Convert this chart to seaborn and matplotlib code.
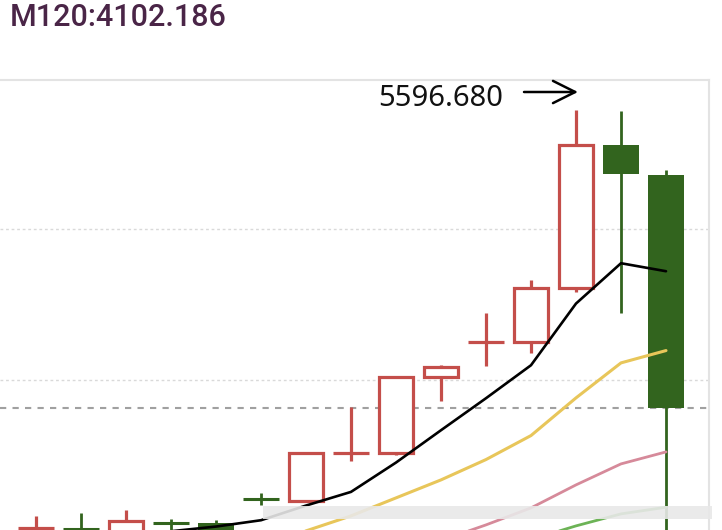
import matplotlib
matplotlib.use("Agg")
import matplotlib.pyplot as plt
from matplotlib.patches import Rectangle
from matplotlib.transforms import offset_copy
import numpy as np
import pandas as pd
import seaborn as sns

# --- data ---
days = list(range(15))
opens = [4342, 4344, 4325, 4359, 4358, 4433, 4424, 4565, 4568, 4796, 4898, 4901, 5063, 5492, 5402]
highs = [4378, 4387, 4397, 4370, 4367, 4448, 4571, 4706, 4799, 4832, 4988, 5087, 5596.68, 5594, 5417]
lows = [4312, 4310, 4313, 4322, 4313, 4412, 4421, 4544, 4562, 4724, 4829, 4868, 5051, 4988, 4292]
closes = [4344, 4341, 4364, 4357, 4331, 4430, 4568, 4568, 4796, 4826, 4901, 5063, 5492, 5405, 4703]

ma5 = [None, None, None, 4333, 4347, 4366, 4410, 4451, 4539, 4636, 4732, 4831, 5016, 5137, 5113]
ma10 = [None, None, None, None, None, 4300, 4334, 4379, 4433, 4487, 4548, 4620, 4733, 4838, 4875]
ma20 = [None, None, None, None, None, None, None, None, None, 4305, 4352, 4403, 4472, 4535, 4571]
ma30 = [None, None, None, None, None, None, None, None, None, None, None, 4308, 4349, 4385, 4405]

title_text = "M120:4102.186"
high_label = "5596.680"
grid_levels = [5239.68, 4786.68]
y_range = (4336.68, 5686.68)

RED = "#c44e4a"
GREEN = "#32641e"

sns.set_theme(style="white")
plt.rcParams["font.family"] = ["Noto Sans", "DejaVu Sans"]

fig = plt.figure(figsize=(7.22, 5.30), dpi=100)
ax = fig.add_axes([0, 0, 709 / 722, 450 / 530])

# grid / reference lines
for g in grid_levels:
    ax.axhline(g, color="#d9d9d9", lw=1, ls=(0, (2, 2)), zorder=0)
ax.axhline(closes[-1], color="#a0a0a0", lw=1.5, ls=(0, (3, 3)), zorder=0)

# candles
width = 0.82
for i, o, h, l, c in zip(days, opens, highs, lows, closes):
    up = c >= o
    top, bot = max(o, c), min(o, c)
    if up:
        ax.vlines(i, top, h, color=RED, lw=2.3, zorder=2)
        ax.vlines(i, l, bot, color=RED, lw=2.3, zorder=2)
        if top - bot < 5:
            ax.hlines(c, i - width / 2, i + width / 2, color=RED, lw=2.3, zorder=3)
        else:
            ax.bar(i, top - bot, bottom=bot, width=width - 0.06, facecolor="white",
                   edgecolor=RED, linewidth=2.3, zorder=3)
    else:
        ax.vlines(i, l, h, color=GREEN, lw=2.0, zorder=2)
        if top - bot < 5:
            ax.hlines(c, i - width / 2, i + width / 2, color=GREEN, lw=2.2, zorder=3)
        else:
            ax.bar(i, top - bot, bottom=bot, width=width, color=GREEN, linewidth=0, zorder=3)

# moving averages
ma = pd.DataFrame({"day": days, "ma5": ma5, "ma10": ma10, "ma20": ma20, "ma30": ma30})
for col, colour, lw in [("ma30", "#6cb356", 2.0), ("ma20", "#d68a9a", 2.0),
                        ("ma10", "#e8c65a", 2.2), ("ma5", "black", 1.9)]:
    d = ma[["day", col]].dropna()
    sns.lineplot(data=d, x="day", y=col, ax=ax, color=colour, lw=lw, zorder=4)

ax.set_xlim(-0.8, 709 / 45 - 0.8)
ax.set_ylim(*y_range)
ax.set_xticks([])
ax.set_yticks([])
ax.set_xlabel("")
ax.set_ylabel("")
for s in ["left", "bottom"]:
    ax.spines[s].set_visible(False)
for s in ["top", "right"]:
    ax.spines[s].set_color("#e3e3e3")
    ax.spines[s].set_linewidth(1.5)

# highest-point label with arrow
hi_i = int(np.argmax(highs))
hi = highs[hi_i]
tip = offset_copy(ax.transData, fig=fig, x=2, y=18, units="dots")
tail = offset_copy(ax.transData, fig=fig, x=-52, y=18, units="dots")
ax.annotate("", xy=(hi_i, hi), xycoords=tip, xytext=(hi_i, hi), textcoords=tail,
            arrowprops=dict(arrowstyle="->,head_length=0.4,head_width=0.2",
                            color="black", lw=1.8, mutation_scale=40, shrinkA=0, shrinkB=0))
lab = offset_copy(ax.transData, fig=fig, x=-73, y=11, units="dots")
ax.text(hi_i, hi, high_label, transform=lab, ha="right", va="center",
        fontsize=21, color="#111111")

# title
fig.text(10 / 722, 1 - 26 / 530, title_text, ha="left", va="baseline",
         fontsize=22, fontweight="medium", color="#4a2547", family=["Roboto", "DejaVu Sans"])

# faint watermark band at the bottom
fig.patches.append(Rectangle((263 / 722, 1 - 519 / 530), 449 / 722, 13 / 530,
                             transform=fig.transFigure, facecolor="#e8e8e8",
                             alpha=0.9, edgecolor="none", zorder=5))

fig.savefig("out.png", dpi=100)
